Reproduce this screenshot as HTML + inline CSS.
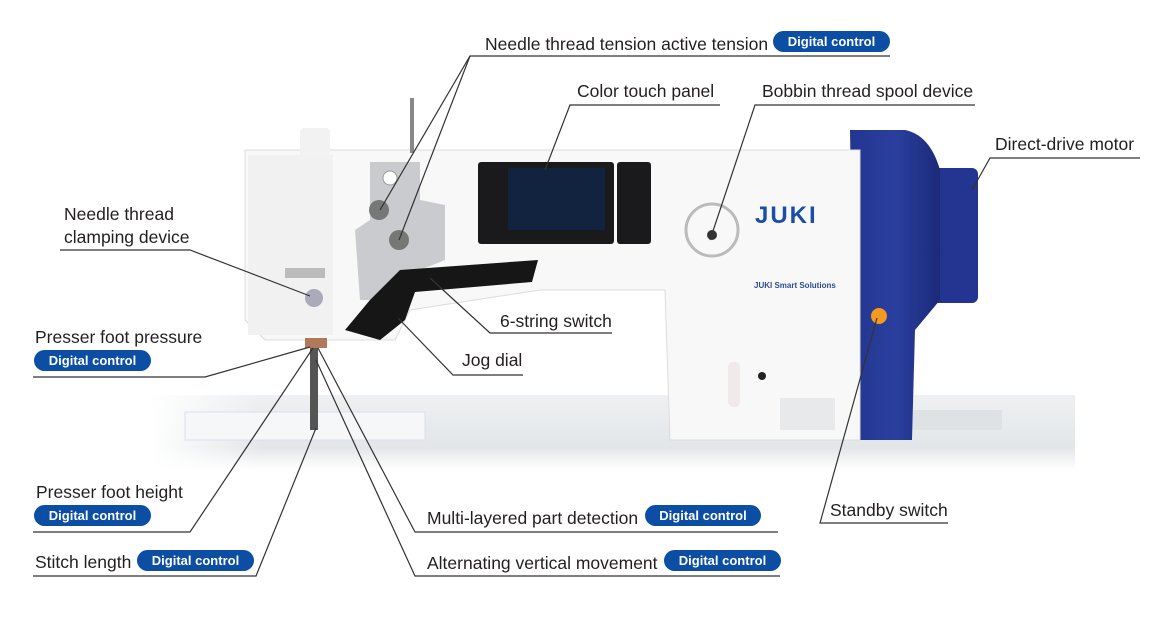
<!DOCTYPE html>
<html><head><meta charset="utf-8"><style>
html,body{margin:0;padding:0;background:#fff;}
svg{display:block;}
text{font-family:"Liberation Sans",sans-serif;}
.l{font-size:17.5px;fill:#231f20;}
.b{font-size:13px;font-weight:bold;fill:#fff;}
.u{stroke:#333;stroke-width:1.2;fill:none;}
</style></head><body>
<svg width="1162" height="619" viewBox="0 0 1162 619" xmlns="http://www.w3.org/2000/svg">
<defs>
<linearGradient id="tb" x1="0" y1="0" x2="0" y2="1"><stop offset="0" stop-color="#eef0f2"/><stop offset="0.7" stop-color="#e3e6e9"/><stop offset="1" stop-color="#fff"/></linearGradient>
<linearGradient id="tl" x1="0" y1="0" x2="1" y2="0"><stop offset="0" stop-color="#fff"/><stop offset="0.12" stop-color="#fff" stop-opacity="0"/></linearGradient>
<linearGradient id="bl" x1="0" y1="0" x2="1" y2="0"><stop offset="0" stop-color="#23358f"/><stop offset="0.5" stop-color="#2a3f9e"/><stop offset="1" stop-color="#1b2a78"/></linearGradient>
</defs>
<rect x="150" y="395" width="925" height="75" fill="url(#tb)"/>
<rect x="150" y="395" width="925" height="75" fill="url(#tl)"/>
<rect x="185" y="412" width="240" height="28" fill="#f6f7f8" stroke="#dde"/>
<rect x="912" y="410" width="90" height="20" fill="#dfe2e5"/>
<rect x="930" y="168" width="48" height="135" rx="6" fill="#233590"/>
<path d="M850 130 L905 130 Q930 135 940 170 L940 300 L915 330 L912 440 L855 440 Z" fill="url(#bl)"/>
<path d="M245 150 L860 150 L860 440 L670 440 L665 290 L540 290 L410 310 L395 340 L265 340 L245 320 Z" fill="#f8f8f9" stroke="#dcdcdf"/>
<rect x="248" y="155" width="85" height="180" fill="#f1f1f2"/>
<rect x="300" y="128" width="30" height="30" rx="4" fill="#f2f2f3"/>
<rect x="410" y="98" width="4" height="55" fill="#888"/>
<rect x="310" y="340" width="8" height="90" fill="#555"/>
<rect x="305" y="338" width="22" height="10" fill="#b07a5a"/>
<path d="M370 162 L420 162 L420 200 L445 205 L445 260 L420 270 L400 300 L360 300 L355 230 L370 220 Z" fill="#c9cbce"/>
<circle cx="379" cy="210" r="10" fill="#777"/><circle cx="399" cy="240" r="10" fill="#777"/>
<circle cx="390" cy="178" r="7" fill="#fff" stroke="#999"/>
<path d="M400 270 L538 260 L532 282 L415 292 L405 320 L380 340 L345 330 L370 300 Z" fill="#161616"/>
<rect x="285" y="268" width="40" height="10" fill="#bbb"/>
<circle cx="314" cy="298" r="9" fill="#aab"/>
<rect x="478" y="162" width="136" height="82" rx="3" fill="#1a1a1c"/>
<rect x="508" y="168" width="97" height="62" fill="#12233f"/>
<rect x="617" y="162" width="34" height="82" rx="3" fill="#1a1a1c"/>
<circle cx="712" cy="230" r="26" fill="none" stroke="#bbb" stroke-width="3"/>
<circle cx="712" cy="235" r="5" fill="#333"/>
<text x="755" y="223" font-size="24" font-weight="bold" fill="#1a4fa5" style="letter-spacing:2px">JUKI</text>
<text x="754" y="288" font-size="8" font-weight="bold" fill="#2a4d8f">JUKI Smart Solutions</text>
<circle cx="879" cy="316" r="8" fill="#f39a1e"/>
<rect x="780" y="398" width="55" height="32" fill="#e8e9eb"/>
<rect x="728" y="362" width="12" height="45" rx="5" fill="#f1eaea"/>
<circle cx="762" cy="376" r="4" fill="#222"/>

<g class="u">
<path d="M890 56 L470 56 L380 210"/><path d="M470 56 L399 240"/>
<path d="M720 105 L570 105 L545 170"/>
<path d="M975 105 L755 105 L710 240"/>
<path d="M1140 158 L990 158 L972 190"/>
<path d="M60 250 L190 250 L310 296"/>
<path d="M33 377 L205 377 L310 347"/>
<path d="M612 333 L490 333 L430 278"/>
<path d="M523 375 L453 375 L398 318"/>
<path d="M33 532 L190 532 L313 348"/>
<path d="M33 576 L256 576 L316 428"/>
<path d="M778 532 L415 532 L318 348"/>
<path d="M780 576 L415 576 L316 360"/>
<path d="M948 523 L820 523 L877 318"/>
</g>

<text class="l" x="485" y="50">Needle thread tension active tension</text>
<rect x="773" y="31" width="117" height="21" rx="10.5" fill="#0c4ea3"/><text class="b" x="831.5" y="46" text-anchor="middle">Digital control</text>
<text class="l" x="577" y="97">Color touch panel</text>
<text class="l" x="762" y="97">Bobbin thread spool device</text>
<text class="l" x="995" y="150">Direct-drive motor</text>
<text class="l" x="64" y="220">Needle thread</text>
<text class="l" x="64" y="243">clamping device</text>
<text class="l" x="35" y="343">Presser foot pressure</text>
<rect x="34" y="350" width="117" height="21" rx="10.5" fill="#0c4ea3"/><text class="b" x="92.5" y="365" text-anchor="middle">Digital control</text>
<text class="l" x="500" y="327">6-string switch</text>
<text class="l" x="462" y="366">Jog dial</text>
<text class="l" x="36" y="498">Presser foot height</text>
<rect x="34" y="505" width="117" height="21" rx="10.5" fill="#0c4ea3"/><text class="b" x="92.5" y="520" text-anchor="middle">Digital control</text>
<text class="l" x="35" y="568">Stitch length</text>
<rect x="137" y="550" width="117" height="21" rx="10.5" fill="#0c4ea3"/><text class="b" x="195.5" y="565" text-anchor="middle">Digital control</text>
<text class="l" x="427" y="524">Multi-layered part detection</text>
<rect x="645" y="505" width="116" height="21" rx="10.5" fill="#0c4ea3"/><text class="b" x="703" y="520" text-anchor="middle">Digital control</text>
<text class="l" x="427" y="569">Alternating vertical movement</text>
<rect x="664" y="550" width="117" height="21" rx="10.5" fill="#0c4ea3"/><text class="b" x="722.5" y="565" text-anchor="middle">Digital control</text>
<text class="l" x="830" y="516">Standby switch</text>
</svg>
</body></html>
